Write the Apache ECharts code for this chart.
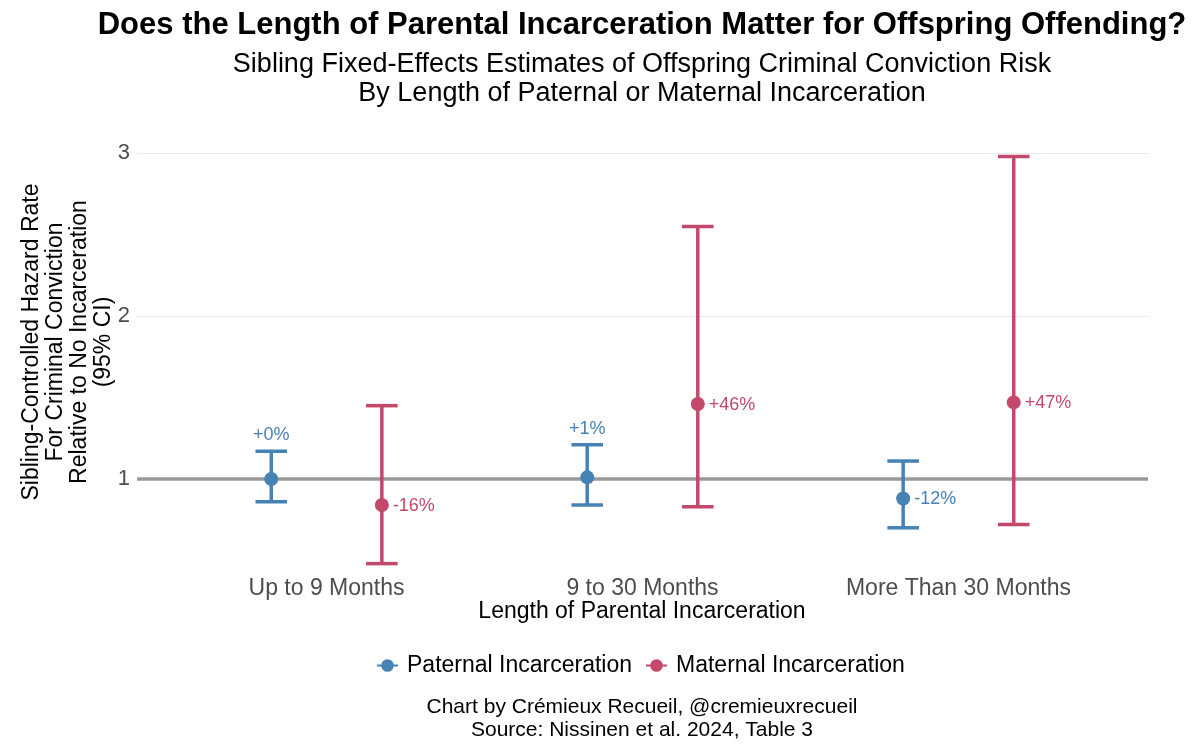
<!DOCTYPE html>
<html>
<head>
<meta charset="utf-8">
<script src="https://cdn.jsdelivr.net/npm/echarts@6/dist/echarts.min.js"></script>
<style>
html,body{margin:0;padding:0;background:#fff;}
#chart{width:1200px;height:753px;}
</style>
</head>
<body>
<div id="chart"></div>
<script>
const categories = ['Up to 9 Months', '9 to 30 Months', 'More Than 30 Months'];
const paternalEst  = [1.00, 1.01, 0.88];
const paternalLow  = [0.86, 0.84, 0.70];
const paternalHigh = [1.17, 1.21, 1.11];
const maternalEst  = [0.84, 1.46, 1.47];
const maternalLow  = [0.48, 0.83, 0.72];
const maternalHigh = [1.45, 2.55, 2.98];
const yTicks = [1, 2, 3];
const refValue = 1;
const paternalLabelSide = ['top', 'top', 'right'];
const maternalLabelSide = ['right', 'right', 'right'];

const FONT = "'Liberation Sans', Arial, Helvetica, sans-serif";
const BLUE = '#4682B4';
const RED = '#C4486A';
const DODGE = 0.175;

function rows(est, lo, hi, shift) {
  return est.map((e, i) => [i + 1 + shift, lo[i], hi[i], e]);
}

function makeRenderer(color, sides) {
  return function (params, api) {
    const x = api.value(0), lo = api.value(1), hi = api.value(2), est = api.value(3);
    const pLo = api.coord([x, lo]);
    const pHi = api.coord([x, hi]);
    const pE = api.coord([x, est]);
    const hw = api.size([0.1, 0])[0] / 2;
    const pct = Math.round((est - 1) * 100);
    const txt = (pct >= 0 ? '+' : '') + pct + '%';
    const side = sides[params.dataIndex];
    const ls = { stroke: color, lineWidth: 3.5 };
    return {
      type: 'group',
      children: [
        { type: 'line', shape: { x1: pLo[0], y1: pLo[1], x2: pHi[0], y2: pHi[1] }, style: ls },
        { type: 'line', shape: { x1: pHi[0] - hw, y1: pHi[1], x2: pHi[0] + hw, y2: pHi[1] }, style: ls },
        { type: 'line', shape: { x1: pLo[0] - hw, y1: pLo[1], x2: pLo[0] + hw, y2: pLo[1] }, style: ls },
        {
          type: 'text',
          x: side === 'top' ? pHi[0] : pE[0] + 11,
          y: side === 'top' ? pHi[1] - 16 : pE[1] + 1,
          style: {
            text: txt, fill: color, fontSize: 18, fontFamily: FONT,
            align: side === 'top' ? 'center' : 'left', verticalAlign: 'middle'
          }
        }
      ]
    };
  };
}

const legendIcon = 'path://M0,9H20V11H0Z M16,10A6,6 0 1 1 4,10A6,6 0 1 1 16,10Z';

const chart = echarts.init(document.getElementById('chart'), null, { renderer: 'canvas' });
const option = {
  backgroundColor: '#ffffff',
  animation: false,
  grid: { left: 137, right: 52, top: 137, bottom: 179.6 },
  xAxis: {
    type: 'value', min: 0.4, max: 3.6,
    axisLine: { show: false }, axisTick: { show: false }, splitLine: { show: false },
    axisLabel: {
      customValues: [1, 2, 3],
      formatter: v => categories[Math.round(v) - 1] || '',
      fontSize: 23, color: '#4d4d4d', fontFamily: FONT, margin: 4
    }
  },
  yAxis: {
    type: 'value', min: 0.42, max: 3.1,
    axisLine: { show: false }, axisTick: { show: false }, splitLine: { show: false },
    axisLabel: {
      customValues: yTicks,
      formatter: v => String(v),
      fontSize: 22, color: '#4d4d4d', fontFamily: FONT, margin: 7, padding: [10, 0, 0, 0]
    }
  },
  legend: {
    data: [
      { name: 'Paternal Incarceration', icon: legendIcon, itemStyle: { color: BLUE } },
      { name: 'Maternal Incarceration', icon: legendIcon, itemStyle: { color: RED } }
    ],
    left: 372, top: 649, itemWidth: 21, itemHeight: 14, itemGap: 14,
    textStyle: { fontSize: 23, color: '#000', fontFamily: FONT, padding: [0, 0, 0, 4] }
  },
  graphic: [
    { type: 'text', x: 642, y: 25, style: { text: 'Does the Length of Parental Incarceration Matter for Offspring Offending?', fontSize: 31, fontWeight: 'bold', fontFamily: FONT, fill: '#000', align: 'center', verticalAlign: 'middle' } },
    { type: 'text', x: 642, y: 79, style: { text: 'Sibling Fixed-Effects Estimates of Offspring Criminal Conviction Risk\nBy Length of Paternal or Maternal Incarceration', fontSize: 27, lineHeight: 29, fontFamily: FONT, fill: '#000', align: 'center', verticalAlign: 'middle' } },
    { type: 'text', x: 68, y: 342, rotation: Math.PI / 2, style: { text: 'Sibling-Controlled Hazard Rate\nFor Criminal Conviction\nRelative to No Incarceration\n(95% CI)', fontSize: 23, lineHeight: 24, fontFamily: FONT, fill: '#000', align: 'center', verticalAlign: 'middle' } },
    { type: 'text', x: 642, y: 612, style: { text: 'Length of Parental Incarceration', fontSize: 23, fontFamily: FONT, fill: '#000', align: 'center', verticalAlign: 'middle' } },
    { type: 'text', x: 642, y: 719, style: { text: 'Chart by Crémieux Recueil, @cremieuxrecueil\nSource: Nissinen et al. 2024, Table 3', fontSize: 21, lineHeight: 23, fontFamily: FONT, fill: '#000', align: 'center', verticalAlign: 'middle' } }
  ],
  series: [
    {
      name: 'grid', type: 'line', data: [], z: 1, silent: true,
      markLine: {
        silent: true, z: 1, symbol: ['none', 'none'], label: { show: false }, animation: false,
        data: yTicks.map(v => ({ yAxis: v, lineStyle: { color: '#ebebeb', width: 1.2, type: 'solid' } }))
          .concat([{ yAxis: refValue, lineStyle: { color: '#999999', width: 3.5, type: 'solid' } }])
      }
    },
    {
      name: 'Paternal Incarceration', type: 'custom', z: 3, clip: false,
      renderItem: makeRenderer(BLUE, paternalLabelSide),
      encode: { x: 0, y: [1, 2] },
      data: rows(paternalEst, paternalLow, paternalHigh, -DODGE)
    },
    {
      name: 'Maternal Incarceration', type: 'custom', z: 3, clip: false,
      renderItem: makeRenderer(RED, maternalLabelSide),
      encode: { x: 0, y: [1, 2] },
      data: rows(maternalEst, maternalLow, maternalHigh, DODGE)
    },
    {
      name: 'Paternal Incarceration', type: 'scatter', z: 4, symbolSize: 14,
      itemStyle: { color: BLUE, opacity: 1 },
      data: paternalEst.map((e, i) => [i + 1 - DODGE, e])
    },
    {
      name: 'Maternal Incarceration', type: 'scatter', z: 4, symbolSize: 14,
      itemStyle: { color: RED, opacity: 1 },
      data: maternalEst.map((e, i) => [i + 1 + DODGE, e])
    }
  ]
};
chart.setOption(option);
</script>
</body>
</html>
